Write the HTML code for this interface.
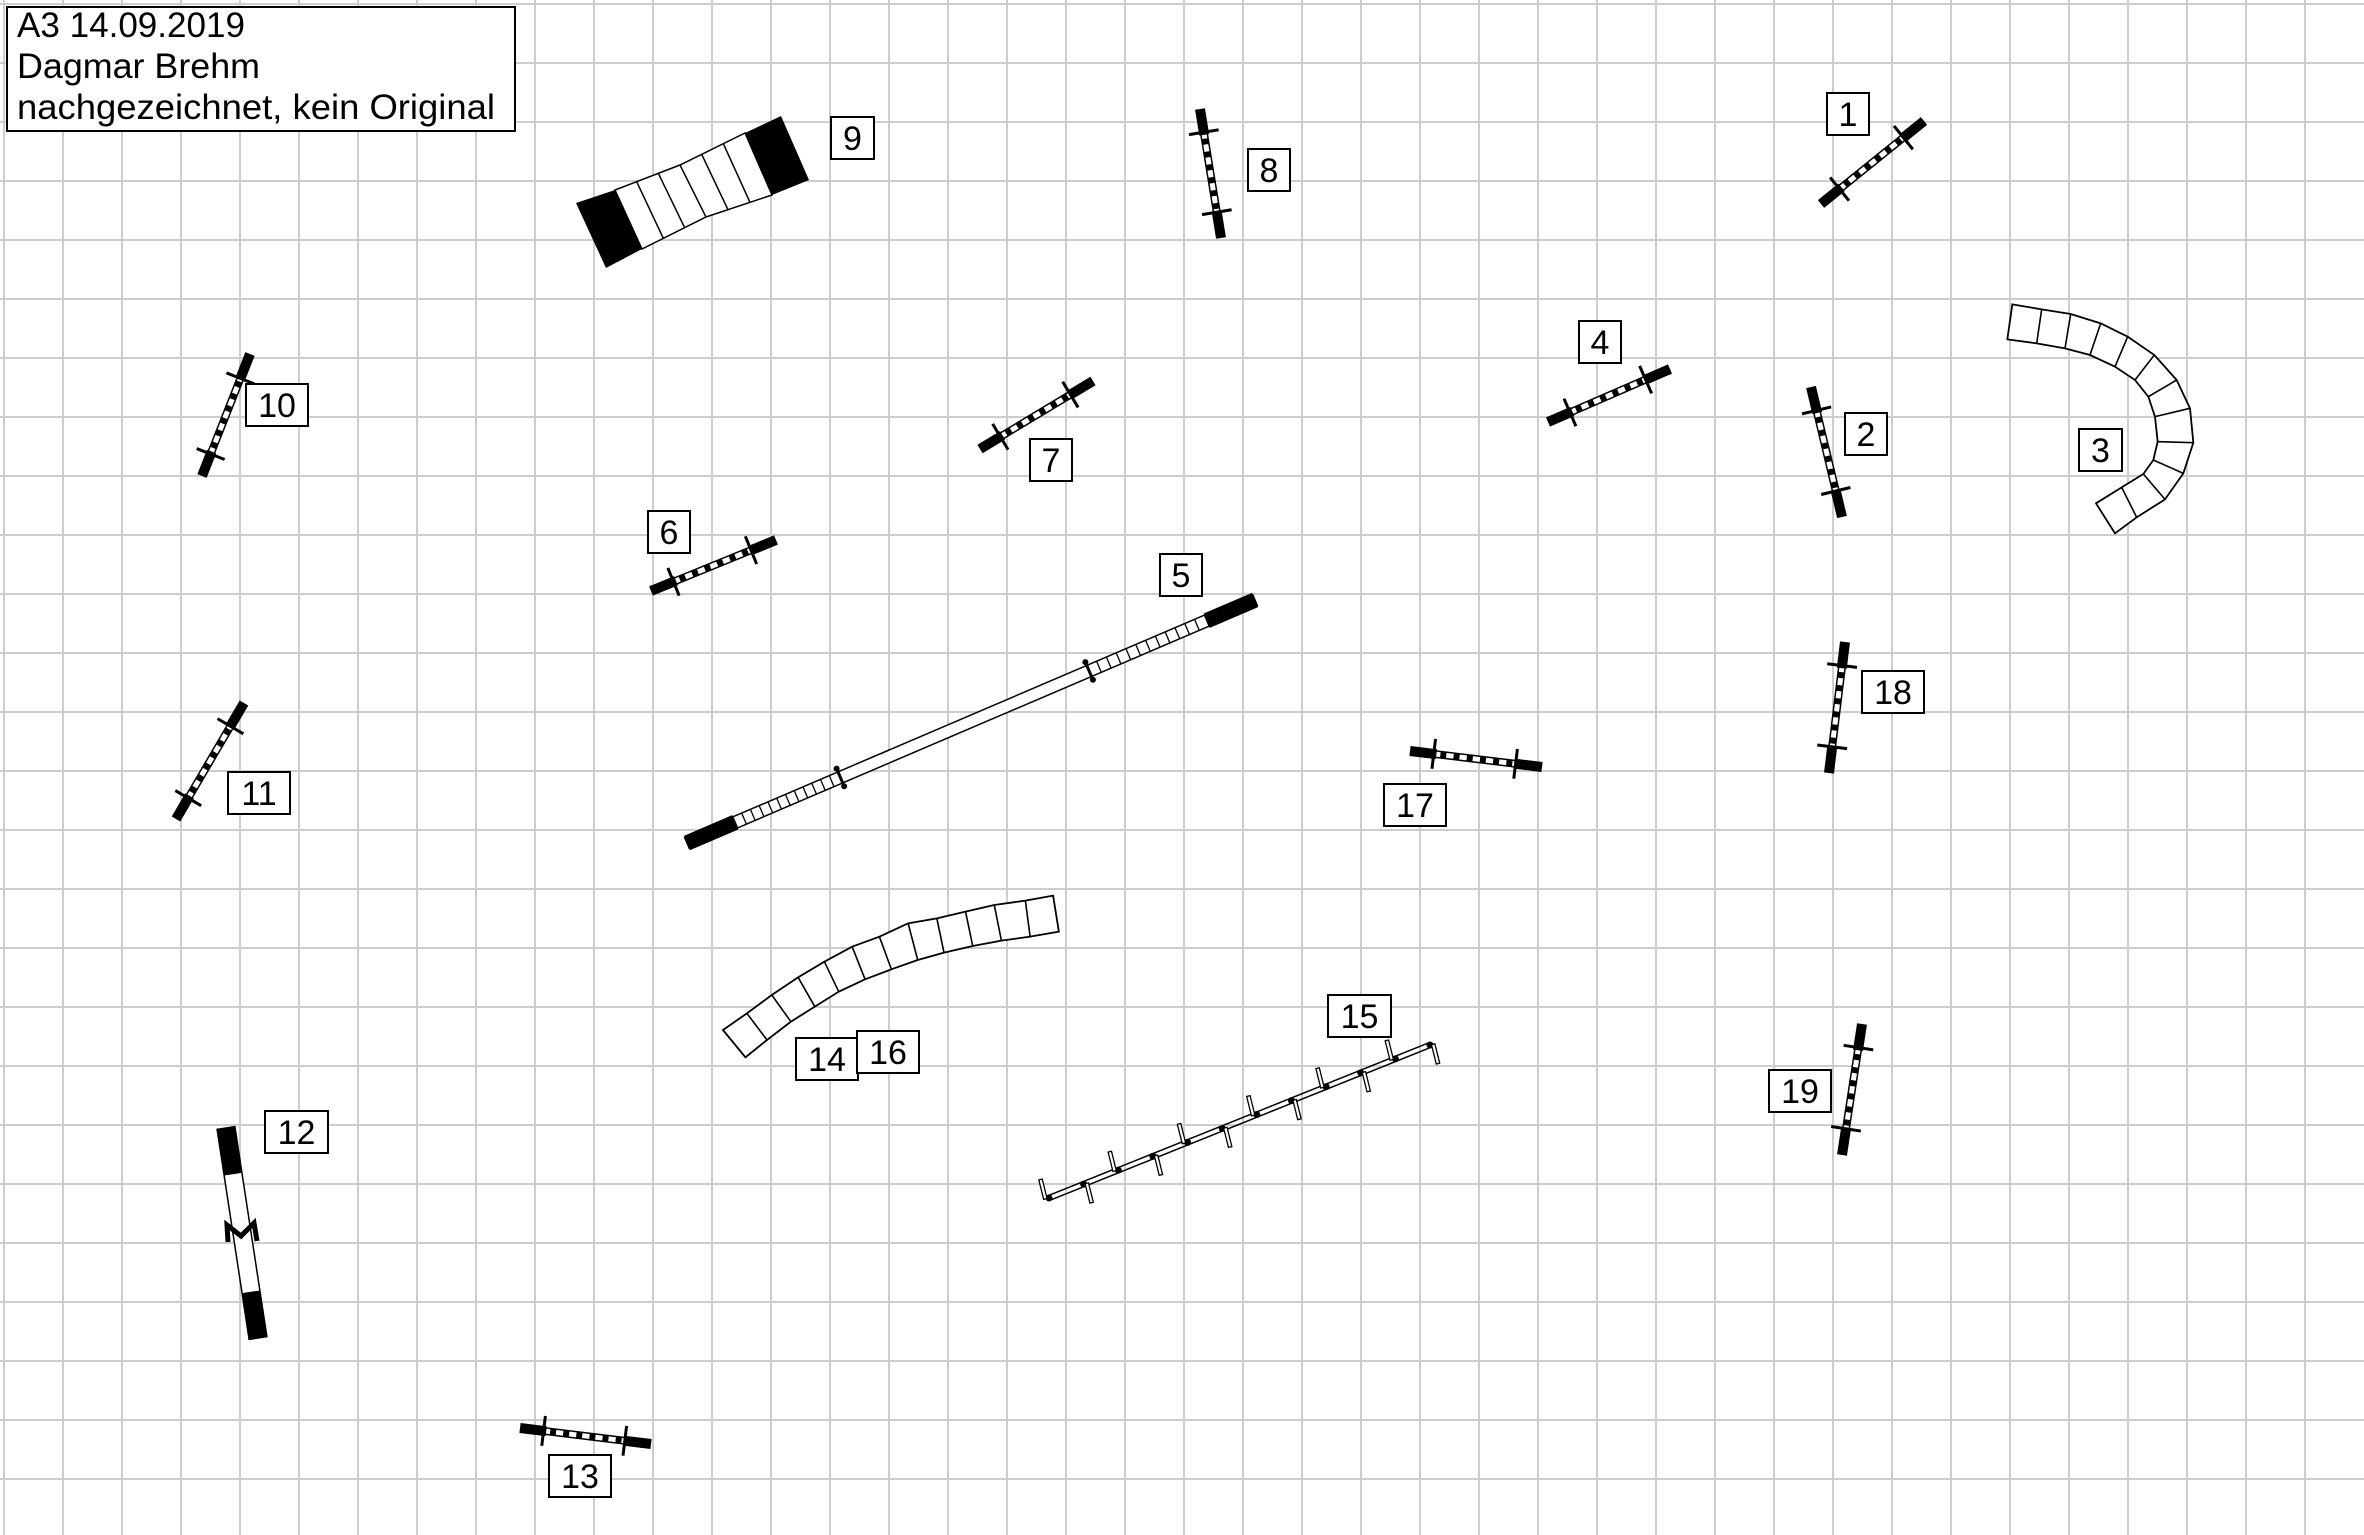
<!DOCTYPE html>
<html><head><meta charset="utf-8"><style>
html,body{margin:0;padding:0;background:#fff;}
svg{display:block;}
text{font-family:"Liberation Sans",sans-serif;fill:#000;}
</style></head><body>
<svg id="s" xmlns="http://www.w3.org/2000/svg" width="2364" height="1535" viewBox="0 0 2364 1535">
<rect width="2364" height="1535" fill="#fff"/>
<g id="grid"></g>
<g id="items"></g>
<rect x="7" y="7" width="508" height="124" fill="#fff" stroke="#000" stroke-width="2"/>
<text x="17" y="37" font-size="35" textLength="228" lengthAdjust="spacingAndGlyphs">A3 14.09.2019</text>
<text x="17" y="78" font-size="35" textLength="243" lengthAdjust="spacingAndGlyphs">Dagmar Brehm</text>
<text x="17" y="119" font-size="35" textLength="478" lengthAdjust="spacingAndGlyphs">nachgezeichnet, kein Original</text>
<g id="labels"></g>
</svg>
<script>
var NS="http://www.w3.org/2000/svg";
function el(p,t,a){var e=document.createElementNS(NS,t);for(var k in a)e.setAttribute(k,a[k]);p.appendChild(e);return e;}
var G=document.getElementById('grid'),I=document.getElementById('items'),L=document.getElementById('labels');
for(var x=4;x<2364;x+=59)el(G,'line',{x1:x,y1:0,x2:x,y2:1535,stroke:'#cdcdcd','stroke-width':2});
for(var y=4;y<1535;y+=59)el(G,'line',{x1:0,y1:y,x2:2364,y2:y,stroke:'#cdcdcd','stroke-width':2});
function P(x1,y1,x2,y2,f){return [x1+(x2-x1)*f,y1+(y2-y1)*f];}
function seg(a,b,w,c){el(I,'line',{x1:a[0],y1:a[1],x2:b[0],y2:b[1],stroke:c||'#000','stroke-width':w});}
function jump(x1,y1,x2,y2){
 var dx=x2-x1,dy=y2-y1,l=Math.hypot(dx,dy),nx=-dy/l,ny=dx/l;
 seg(P(x1,y1,x2,y2,0),P(x1,y1,x2,y2,0.2),10);
 seg(P(x1,y1,x2,y2,0.8),P(x1,y1,x2,y2,1),10);
 seg(P(x1,y1,x2,y2,0.19),P(x1,y1,x2,y2,0.81),8);
 seg(P(x1,y1,x2,y2,0.2),P(x1,y1,x2,y2,0.8),5,'#fff');
 for(var i=0;i<6;i++){var a=0.2+i*0.1;seg(P(x1,y1,x2,y2,a+0.03),P(x1,y1,x2,y2,a+0.075),7);}
 [0.18,0.8].forEach(function(f){var p=P(x1,y1,x2,y2,f);seg([p[0]-nx*15,p[1]-ny*15],[p[0]+nx*15,p[1]+ny*15],3);});
}
jump(1821,204,1924,121);jump(1200,109,1221,238);jump(202,476,250,354);jump(980,449,1093,381);
jump(1548,422,1670,369);jump(1811,387,1842,517);jump(651,591,776,540);jump(176,819,244,703);
jump(1845,642,1829,773);jump(1410,751,1542,767);jump(1862,1024,1842,1155);jump(520,1428,651,1444);
function label(x,y,w,t){el(L,'rect',{x:x,y:y,width:w,height:42,fill:'#fff',stroke:'#000','stroke-width':2});
 var e=el(L,'text',{x:x+w/2,y:y+33,'font-size':34,'text-anchor':'middle'});e.textContent=t;}
label(1827,93,42,'1');label(831,117,43,'9');label(1248,149,42,'8');label(1160,554,42,'5');
label(2079,429,43,'3');label(1579,321,42,'4');label(1845,413,42,'2');label(1030,439,42,'7');
label(246,384,62,'10');label(648,511,42,'6');label(228,772,62,'11');label(1862,671,62,'18');
label(1384,784,62,'17');label(265,1111,63,'12');label(796,1038,62,'14');label(857,1031,62,'16');
label(1328,995,63,'15');label(1769,1070,62,'19');label(549,1455,62,'13');
function tunnel(pts,ox,oy,sx,sy){
 var o=[],n=[];pts.forEach(function(p){o.push([ox+p[0]/sx,oy+p[1]/sy]);n.push([ox+p[2]/sx,oy+p[3]/sy]);});
 var d='M'+o.map(function(p){return p.join(',')}).join(' L')+' L'+n.slice().reverse().map(function(p){return p.join(',')}).join(' L')+'Z';
 el(I,'path',{d:d,fill:'#fff',stroke:'#000','stroke-width':1.8});
 for(var i=1;i<o.length-1;i++)el(I,'line',{x1:o[i][0],y1:o[i][1],x2:n[i][0],y2:n[i][1],stroke:'#000','stroke-width':1.6});
}
tunnel([[97,73,82,178],[185,88,170,190],[272,102,255,205],[362,130,330,225],[443,170,405,260],[523,225,465,300],[590,300,505,350],[630,385,525,410],[640,488,533,485],[610,580,520,540],[555,658,490,582],[470,712,425,622],[405,760,348,670]],1980,280,3,3);
tunnel([[48,450,95,532],[98,400,140,480],[150,345,190,425],[205,292,240,380],[260,245,290,335],[318,200,345,298],[375,170,400,268],[435,130,455,240],[495,115,510,218],[555,95,570,198],[615,75,630,182],[680,62,690,170],[738,47,750,155]],700,880,2.09,3);
(function(){var x1=687,y1=843,x2=1255,y2=600,dx=x2-x1,dy=y2-y1,l=Math.hypot(dx,dy),nx=-dy/l*6,ny=dx/l*6;
 var a=[x1+nx,y1+ny],b=[x2+nx,y2+ny],c=[x2-nx,y2-ny],d=[x1-nx,y1-ny];
 el(I,'polygon',{points:[a,b,c,d].map(function(p){return p.join(',')}).join(' '),fill:'#fff',stroke:'#000','stroke-width':1.5});
 function q(f1,f2){var p1=P(x1,y1,x2,y2,f1),p2=P(x1,y1,x2,y2,f2);el(I,'polygon',{points:[[p1[0]+nx*1.3,p1[1]+ny*1.3],[p2[0]+nx*1.3,p2[1]+ny*1.3],[p2[0]-nx*1.3,p2[1]-ny*1.3],[p1[0]-nx*1.3,p1[1]-ny*1.3]].map(function(p){return p.join(',')}).join(' '),fill:'#000'});}
 q(0,0.085);q(0.915,1);
 function hatch(f1,f2){for(var f=f1;f<=f2+0.0001;f+=(f2-f1)/12){var p=P(x1,y1,x2,y2,f);seg([p[0]+nx,p[1]+ny],[p[0]-nx,p[1]-ny],1.3);}}
 hatch(0.085,0.27);hatch(0.708,0.915);
 [0.27,0.708].forEach(function(f){var p=P(x1,y1,x2,y2,f);seg([p[0]+nx*1.9,p[1]+ny*1.9],[p[0]-nx*1.9,p[1]-ny*1.9],3);
  el(I,'circle',{cx:p[0]+nx*1.6,cy:p[1]+ny*1.6,r:3});el(I,'circle',{cx:p[0]-nx*1.6,cy:p[1]-ny*1.6,r:3});});
})();
el(I,'polygon',{points:'576,203 615,190 642,249 606,268',fill:'#000'});
el(I,'polygon',{points:'745,133 781,116 809,180 772,195',fill:'#000'});
el(I,'path',{d:'M615,190 L680,165 L745,133 L772,195 L706,217 L642,249 Z',fill:'#fff',stroke:'#000','stroke-width':1.5});
for(var i=1;i<6;i++){var f=i/6;var tx,ty,bx,by;
 if(f<0.5){var g=f/0.5;tx=615+(680-615)*g;ty=190+(165-190)*g;bx=642+(706-642)*g;by=249+(217-249)*g;}
 else{var g=(f-0.5)/0.5;tx=680+(745-680)*g;ty=165+(133-165)*g;bx=706+(772-706)*g;by=217+(195-217)*g;}
 seg([tx,ty],[bx,by],1.5);}
(function(){var x1=226,y1=1128,x2=258,y2=1338,dx=x2-x1,dy=y2-y1,l=Math.hypot(dx,dy),nx=-dy/l*9,ny=dx/l*9;
 el(I,'polygon',{points:[[x1+nx,y1+ny],[x2+nx,y2+ny],[x2-nx,y2-ny],[x1-nx,y1-ny]].map(function(p){return p.join(',')}).join(' '),fill:'#fff',stroke:'#000','stroke-width':1.5});
 function q(f1,f2){var p1=P(x1,y1,x2,y2,f1),p2=P(x1,y1,x2,y2,f2);el(I,'polygon',{points:[[p1[0]+nx,p1[1]+ny],[p2[0]+nx,p2[1]+ny],[p2[0]-nx,p2[1]-ny],[p1[0]-nx,p1[1]-ny]].map(function(p){return p.join(',')}).join(' '),fill:'#000'});}
 q(0,0.22);q(0.78,1);
 var m=P(x1,y1,x2,y2,0.5);
 el(I,'path',{d:'M'+(m[0]-14)+','+(m[1]+9)+' L'+(m[0]-15)+','+(m[1]-8)+' L'+(m[0]-1)+','+(m[1]+3)+' L'+(m[0]+12)+','+(m[1]-10)+' L'+(m[0]+15)+','+(m[1]+8),fill:'none',stroke:'#000','stroke-width':5});
})();
(function(){var x1=1049,y1=1198,x2=1430,y2=1045,dx=x2-x1,dy=y2-y1,l=Math.hypot(dx,dy),nx=-dy/l*2.5,ny=dx/l*2.5;
 seg([x1+nx,y1+ny],[x2+nx,y2+ny],1.5);seg([x1-nx,y1-ny],[x2-nx,y2-ny],1.5);
 for(var i=0;i<12;i++){var p=P(x1,y1,x2,y2,i/11);el(I,'circle',{cx:p[0],cy:p[1],r:3.5});
  var s=(i%2==0)?-1:1;
  el(I,'rect',{x:p[0]-1.5+(s>0?3:-4),y:(s>0?p[1]:p[1]-20),width:3.5,height:20,fill:'#fff',stroke:'#000','stroke-width':1.3,transform:'rotate(-14 '+p[0]+' '+p[1]+')'});}
})();
</script>
</body></html>
